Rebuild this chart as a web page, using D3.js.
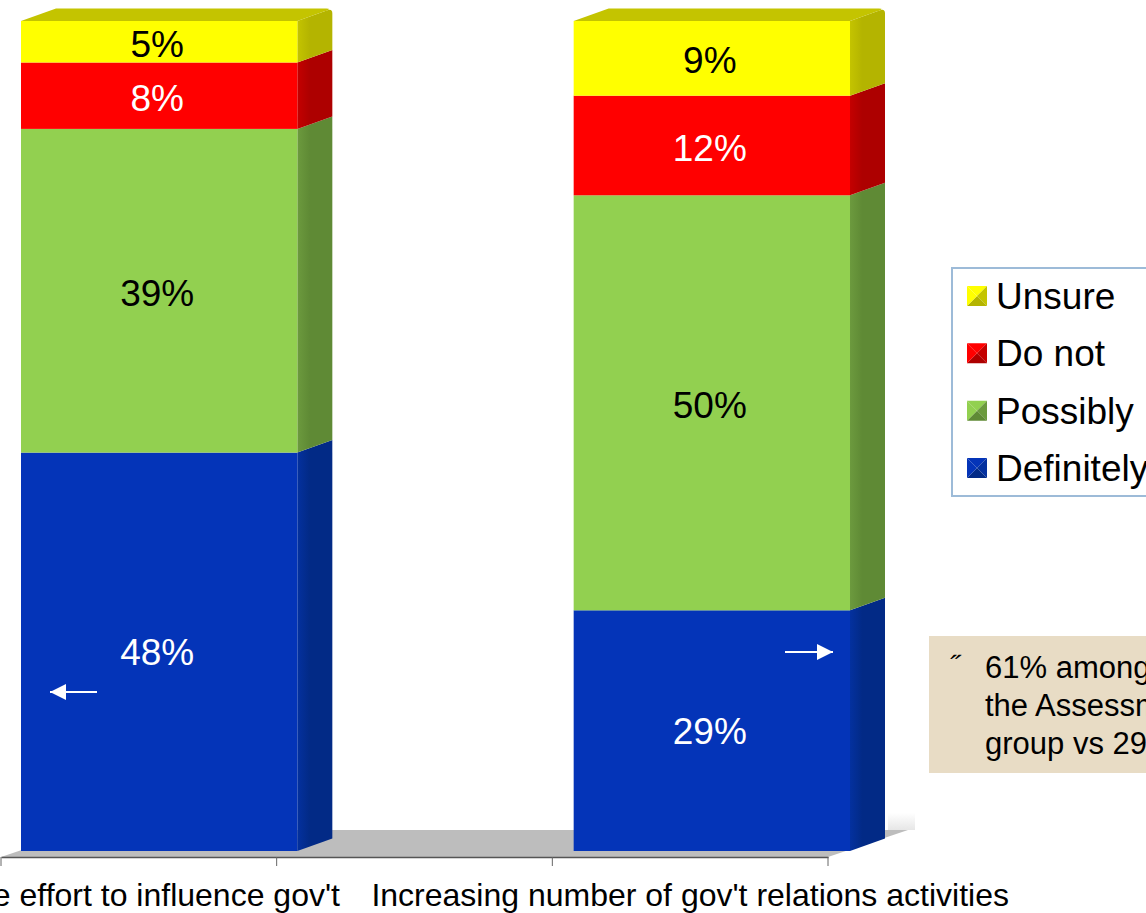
<!DOCTYPE html>
<html>
<head>
<meta charset="utf-8">
<script src="https://cdn.jsdelivr.net/npm/d3@7"></script>
<style>
  html, body { margin: 0; padding: 0; background: #fff; overflow: hidden; }
  text { font-family: "Liberation Sans", Arial, sans-serif; fill: #000; }
</style>
</head>
<body>
<svg id="chart" width="1146" height="913"></svg>
<script>
// data (percent of respondents)
const categories = ["More effort to influence gov't", "Increasing number of gov't relations activities"];
const axisSlots = [categories[0], "blank", categories[1]];
const seriesNames = ["Definitely", "Possibly", "Do not", "Unsure"];
const definitely = [48, 29];
const possibly = [39, 50];
const doNot = [8, 12];
const unsure = [5, 9];
const legendOrder = ["Unsure", "Do not", "Possibly", "Definitely"];
const calloutLines = ["61% among", "the Assessment", "group vs 29%"];

const rows = categories.map((c, i) => ({
  category: c,
  "Definitely": definitely[i],
  "Possibly": possibly[i],
  "Do not": doNot[i],
  "Unsure": unsure[i]
}));

const front = {"Definitely": "#0434b8", "Possibly": "#92d050", "Do not": "#ff0000", "Unsure": "#ffff00"};
const sideA = {"Definitely": "#04319f", "Possibly": "#6c9a3e", "Do not": "#c40000", "Unsure": "#c4c400"};
const sideB = {"Definitely": "#022a86", "Possibly": "#5f8a35", "Do not": "#ad0000", "Unsure": "#b4b400"};
const labelColor = {"Definitely": "#fff", "Possibly": "#000", "Do not": "#fff", "Unsure": "#000"};

const svg = d3.select('#chart');

// axis sits on the floor front edge, the bars stand a bit further back
const xScale = d3.scaleBand().domain(axisSlots).range([1, 828]);
const barScale = d3.scaleBand().domain(axisSlots).range([21, 850]);
const yScale = d3.scaleLinear().domain([0, 100]).range([851, 21]);

// the 3d offsets of the original chart
const depthX = 35, depthY = 12.5;
const floorBottom = 857, floorDx = 80, floorDy = 27;

const defs = svg.append('defs');
seriesNames.forEach((s, i) => {
  const g = defs.append('linearGradient').attr('id', 'side' + i);
  g.append('stop').attr('offset', '0%').attr('stop-color', sideA[s]);
  g.append('stop').attr('offset', '35%').attr('stop-color', sideB[s]);
  g.append('stop').attr('offset', '100%').attr('stop-color', sideB[s]);
});

const glow = defs.append('linearGradient')
    .attr('id', 'glow')
    .attr('x1', 0).attr('x2', 0).attr('y1', 0).attr('y2', 1);
glow.append('stop').attr('offset', '0%').attr('stop-color', '#fff');
glow.append('stop').attr('offset', '100%').attr('stop-color', '#e6e6e6');

// pale end of the back wall behind the floor corner
svg.append('rect')
    .attr('x', 888).attr('y', 813)
    .attr('width', 27).attr('height', 17)
    .attr('fill', 'url(#glow)');

// floor
svg.append('path')
    .attr('d', d3.line()([
      [xScale.range()[0], floorBottom],
      [xScale.range()[1], floorBottom],
      [xScale.range()[1] + floorDx, floorBottom - floorDy],
      [xScale.range()[0] + floorDx, floorBottom - floorDy]
    ]) + 'Z')
    .attr('fill', '#bdbdbd');

// stacked bars
const stack = d3.stack().keys(seriesNames)(rows);

const barX = d => barScale(d.data.category);
const barW = barScale.bandwidth();
const keyOf = node => d3.select(node.parentNode).datum().key;

const layers = svg.selectAll('.layer')
  .data(stack)
  .join('g')
    .attr('class', 'layer');

layers.selectAll('.side')
  .data(d => d)
  .join('path')
    .attr('class', 'side')
    .attr('d', function(d) {
      const x = barX(d) + barW;
      const p = d3.path();
      p.moveTo(x, yScale(d[0]));
      p.lineTo(x + depthX, yScale(d[0]) - depthY);
      if (keyOf(this) === 'Unsure') {
        // the top right corner of the box is rounded
        p.lineTo(x + depthX, yScale(d[1]) - depthY + 5);
        p.quadraticCurveTo(x + depthX, yScale(d[1]) - depthY, x + depthX - 5, yScale(d[1]) - depthY + 1.8);
      } else {
        p.lineTo(x + depthX, yScale(d[1]) - depthY);
      }
      p.lineTo(x, yScale(d[1]));
      p.closePath();
      return p.toString();
    })
    .attr('fill', function() {
      return 'url(#side' + seriesNames.indexOf(keyOf(this)) + ')';
    });

layers.selectAll('.front')
  .data(d => d)
  .join('rect')
    .attr('class', 'front')
    .attr('x', barX)
    .attr('y', d => yScale(d[1]))
    .attr('width', barW)
    .attr('height', d => yScale(d[0]) - yScale(d[1]))
    .attr('fill', function() {
      return front[keyOf(this)];
    });

// top face, only on the last series
svg.selectAll('.top')
  .data(stack[stack.length - 1])
  .join('path')
    .attr('class', 'top')
    .attr('d', d => {
      const x = barX(d), y = yScale(d[1]);
      const p = d3.path();
      p.moveTo(x, y);
      p.lineTo(x + barW, y);
      p.lineTo(x + barW + depthX - 5, y - depthY + 1.8);
      p.quadraticCurveTo(x + barW + depthX - 1, y - depthY, x + barW + depthX - 6, y - depthY);
      p.lineTo(x + depthX, y - depthY);
      p.closePath();
      return p.toString();
    })
    .attr('fill', '#c4c400');

// value labels
layers.selectAll('.value')
  .data(d => d)
  .join('text')
    .attr('class', 'value')
    .attr('x', d => barX(d) + barW / 2 - 2)
    .attr('y', function(d) {
      const nudge = keyOf(this) === 'Definitely' ? 13 : 15;
      return (yScale(d[0]) + yScale(d[1])) / 2 + nudge;
    })
    .attr('text-anchor', 'middle')
    .style('font-size', '37px')
    .style('fill', function() {
      return labelColor[keyOf(this)];
    })
    .text(d => (d[1] - d[0]) + '%');

// x axis, ticks sit on the band edges so they are drawn by hand
const xAxis = d3.axisBottom(xScale)
    .tickSize(0)
    .tickPadding(26)
    .tickFormat(d => d === 'blank' ? '' : d);

const xAxisG = svg.append('g')
    .attr('class', 'axis x-axis')
    .attr('transform', `translate(0,${floorBottom})`)
    .call(xAxis);

xAxisG.select('.domain').attr('stroke', '#555').attr('stroke-width', 1.5);
xAxisG.selectAll('text')
    .style('font-family', '"Liberation Sans", Arial, sans-serif')
    .style('font-size', '32px')
    .attr('fill', '#000');

const edges = axisSlots.map(d => xScale(d)).concat(xScale.range()[1]);
xAxisG.selectAll('.edge')
  .data(edges)
  .join('line')
    .attr('class', 'edge')
    .attr('x1', d => d).attr('x2', d => d)
    .attr('y1', 0).attr('y2', 9)
    .attr('stroke', '#666');

// legend
const legend = svg.append('g').attr('class', 'legend');
legend.append('rect')
    .attr('x', 952).attr('y', 268)
    .attr('width', 220).attr('height', 228)
    .attr('fill', '#fff')
    .attr('stroke', '#9dbbd8')
    .attr('stroke-width', 2);

const legendY = d3.scalePoint().domain(legendOrder).range([296, 468]);
const swatch = 20;

const legendItems = legend.selectAll('.legend-item')
  .data(legendOrder)
  .join('g')
    .attr('class', 'legend-item')
    .attr('transform', d => `translate(967,${legendY(d)})`);

// pyramid shaped swatches: four triangles meeting in the middle
const facets = [
  {pts: [[0, 0], [1, 0], [.5, .5]], tint: d => front[d]},
  {pts: [[1, 0], [1, 1], [.5, .5]], tint: d => sideA[d]},
  {pts: [[1, 1], [0, 1], [.5, .5]], tint: d => sideB[d]},
  {pts: [[0, 1], [0, 0], [.5, .5]], tint: d => front[d]}
];

legendItems.selectAll('path')
  .data(d => facets.map(f => ({name: d, f})))
  .join('path')
    .attr('d', d => d3.line()(d.f.pts.map(p => [p[0] * swatch, p[1] * swatch - swatch / 2])) + 'Z')
    .attr('fill', d => d.f.tint(d.name));

legendItems.append('text')
    .attr('x', 29)
    .attr('y', 13)
    .style('font-size', '37px')
    .text(d => d);

// callout box
svg.append('rect')
    .attr('x', 929).attr('y', 636)
    .attr('width', 220).attr('height', 137)
    .attr('fill', '#e8dcc5');

svg.append('text')
    .attr('x', 950).attr('y', 675)
    .style('font-size', '28px')
    .style('font-style', 'italic')
    .text('\u02dd');

svg.selectAll('.callout')
  .data(calloutLines)
  .join('text')
    .attr('class', 'callout')
    .attr('x', 985)
    .attr('y', (d, i) => 678 + i * 38)
    .style('font-size', '31px')
    .text(d => d);

// white arrows on the blue segments
const arrows = [
  {from: 97, to: 50, y: 692},
  {from: 785, to: 833, y: 652}
];

const arrowG = svg.selectAll('.arrow')
  .data(arrows)
  .join('g')
    .attr('class', 'arrow');

arrowG.append('line')
    .attr('x1', d => d.from)
    .attr('x2', d => d.to)
    .attr('y1', d => d.y)
    .attr('y2', d => d.y)
    .attr('stroke', '#fff')
    .attr('stroke-width', 2);

arrowG.append('path')
    .attr('d', d => {
      const dir = d.to > d.from ? -1 : 1;
      return d3.line()([[d.to, d.y], [d.to + dir * 16, d.y - 8], [d.to + dir * 16, d.y + 8]]) + 'Z';
    })
    .attr('fill', '#fff');
</script>
</body>
</html>
